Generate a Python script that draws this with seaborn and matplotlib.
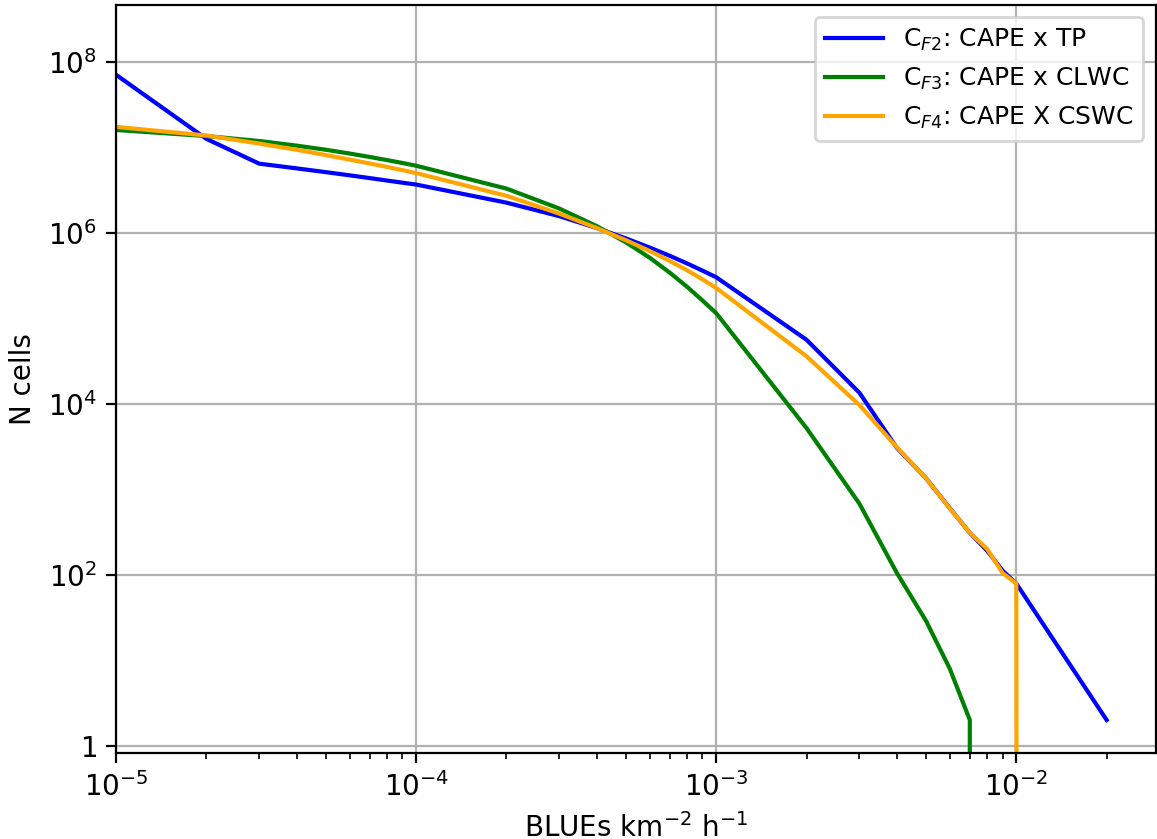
import numpy as np
import pandas as pd
import matplotlib
matplotlib.use("Agg")
import matplotlib.pyplot as plt
import matplotlib.ticker as mticker
import seaborn as sns

# show 10^0 as plain "1" on the y axis
plt.rcParams['axes.formatter.min_exponent'] = 1

# BLUEs bins (km-2 h-1)
blues = [1e-5, 2e-5, 3e-5, 4e-5, 5e-5, 6e-5, 7e-5, 8e-5, 9e-5,
         1e-4, 2e-4, 3e-4, 4e-4, 5e-4, 6e-4, 7e-4, 8e-4, 9e-4,
         1e-3, 2e-3, 3e-3, 4e-3, 5e-3, 6e-3, 7e-3, 8e-3, 9e-3,
         1e-2, 2e-2]

# N cells per bin
cf2_tp = [7.08e7, 1.26e7, 6.46e6, 5.69e6, 5.14e6, 4.72e6, 4.38e6, 4.10e6, 3.87e6,
          3.68e6, 2.26e6, 1.57e6, 1.14e6, 8.63e5, 6.75e5, 5.40e5, 4.39e5, 3.62e5,
          3.03e5, 5.62e4, 1.35e4, 3050, 1350, 603, 309, 191, 112,
          79, 2]
cf3_clwc = [1.60e7, 1.36e7, 1.19e7, 1.05e7, 9.40e6, 8.49e6, 7.74e6, 7.11e6, 6.58e6,
            6.11e6, 3.30e6, 1.93e6, 1.20e6, 7.76e5, 5.13e5, 3.43e5, 2.34e5, 1.62e5,
            1.15e5, 5.2e3, 680, 105, 29, 8, 2, 0, 0,
            0, 0]
cf4_cswc = [1.74e7, 1.38e7, 1.11e7, 9.38e6, 8.15e6, 7.21e6, 6.50e6, 5.92e6, 5.43e6,
            5.01e6, 2.72e6, 1.68e6, 1.14e6, 8.22e5, 6.15e5, 4.70e5, 3.65e5, 2.86e5,
            2.27e5, 3.6e4, 9.7e3, 3.1e3, 1350, 600, 310, 200, 105,
            79, 0]

labels = [r'C$_{F2}$: CAPE x TP', r'C$_{F3}$: CAPE x CLWC', r'C$_{F4}$: CAPE X CSWC']
colors = ['blue', 'green', 'orange']

fig, ax = plt.subplots(figsize=(1157 / 200, 839 / 200), dpi=200)
fig.subplots_adjust(left=0.1003, right=0.9991, top=0.9946, bottom=0.1029)

ax.set_xscale('log')
ax.set_yscale('log')

for vals, lab, col in zip([cf2_tp, cf3_clwc, cf4_cswc], labels, colors):
    sns.lineplot(x=blues, y=vals, ax=ax, color=col, label=lab,
                 estimator=None, sort=False, linewidth=1.5)

ax.set_xlim(left=1e-5, right=2.92e-2)
ax.set_ylim(0.83, 4.7e8)
ax.set_yticks([1, 1e2, 1e4, 1e6, 1e8])
ax.yaxis.set_minor_locator(mticker.NullLocator())
ax.grid(True, which='major')
ax.set_xlabel(r'BLUEs km$^{-2}$ h$^{-1}$')
ax.set_ylabel('N cells')
ax.legend(loc='upper right', fontsize=9, handlelength=2.3)

fig.savefig('out.png', dpi=200)
